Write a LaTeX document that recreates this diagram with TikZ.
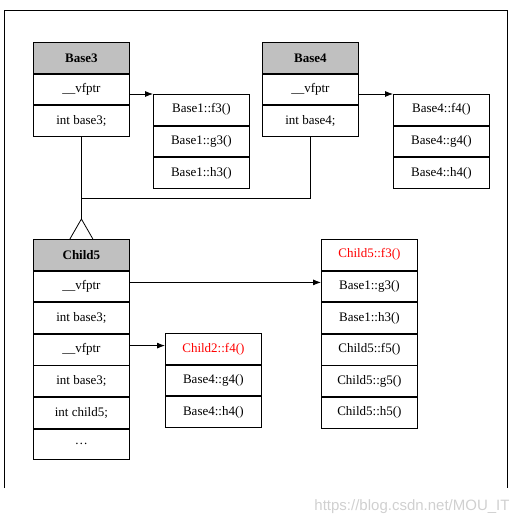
\documentclass[tikz,border=0pt]{standalone}
\usepackage{fontspec}
\setmainfont{Liberation Serif}
\newfontfamily\urlfont{Liberation Sans}
\usetikzlibrary{arrows.meta,positioning}
\definecolor{headgray}{HTML}{C0C0C0}
\definecolor{overcolor}{HTML}{FF0000}
\definecolor{markgray}{HTML}{D0D0D0}

\begin{document}
\begin{tikzpicture}[
  x=1pt,y=-1pt,
  cell/.style={rectangle,draw,line width=0.8pt,minimum width=96pt,minimum height=30.8pt,inner sep=0pt,font=\fontsize{13}{15}\selectfont},
  head/.style={cell,fill=headgray,font=\fontsize{13}{15}\selectfont\bfseries},
  over/.style={cell,text=overcolor},
  arr/.style={-{Latex[length=8pt,width=6pt]},line width=0.8pt},
  link/.style={line width=0.8pt}
]
\useasboundingbox (0,0) rectangle (529,525);
\draw[link] (4,488) -- (4,10) -- (507,10) -- (507,488);

% Base3 and its table
\node[head,anchor=north west] (b3head) at (33,42) {Base3};
\node[cell,below=0pt of b3head] (b3vf) {\_\_vfptr};
\node[cell,below=0pt of b3vf] (b3int) {int base3;};
\node[cell,anchor=north west] (t3a) at (153,94) {Base1::f3()};
\node[cell,below=0pt of t3a] (t3b) {Base1::g3()};
\node[cell,below=0pt of t3b] (t3c) {Base1::h3()};

% Base4 and its table
\node[head,anchor=north west] (b4head) at (262,42) {Base4};
\node[cell,below=0pt of b4head] (b4vf) {\_\_vfptr};
\node[cell,below=0pt of b4vf] (b4int) {int base4;};
\node[cell,anchor=north west] (t4a) at (393,94) {Base4::f4()};
\node[cell,below=0pt of t4a] (t4b) {Base4::g4()};
\node[cell,below=0pt of t4b] (t4c) {Base4::h4()};

% Child5
\node[head,anchor=north west] (c5head) at (33,239) {Child5};
\node[cell,below=0pt of c5head] (c5vf1) {\_\_vfptr};
\node[cell,below=0pt of c5vf1] (c5b3) {int base3;};
\node[cell,below=0pt of c5b3] (c5vf2) {\_\_vfptr};
\node[cell,below=0pt of c5vf2] (c5b4) {int base3;};
\node[cell,below=0pt of c5b4] (c5own) {int child5;};
\node[cell,below=0pt of c5own] (c5dots) {\dots};

\node[over,anchor=north west] (t5a) at (321,239) {Child5::f3()};
\node[cell,below=0pt of t5a] (t5b) {Base1::g3()};
\node[cell,below=0pt of t5b] (t5c) {Base1::h3()};
\node[cell,below=0pt of t5c] (t5d) {Child5::f5()};
\node[cell,below=0pt of t5d] (t5e) {Child5::g5()};
\node[cell,below=0pt of t5e] (t5f) {Child5::h5()};

\node[over,anchor=north west] (t2a) at (165,333) {Child2::f4()};
\node[cell,below=0pt of t2a] (t2b) {Base4::g4()};
\node[cell,below=0pt of t2b] (t2c) {Base4::h4()};

% pointers
\draw[arr] (b3vf.east |- t3a.north west) -- (t3a.north west);
\draw[arr] (b4vf.east |- t4a.north west) -- (t4a.north west);
\draw[arr] ([yshift=4pt]c5vf1.east) -- ([yshift=4pt]c5vf1.east -| t5a.west);
\draw[arr] ([yshift=4pt]c5vf2.east) -- ([yshift=4pt]c5vf2.east -| t2a.west);

% inheritance
\coordinate (join) at (81,198);
\coordinate[above=20pt of c5head.north] (tip);
\draw[link] (b3int.south) -- (tip);
\draw[link] (join) -| (b4int.south);
\draw[link] ([xshift=-11.5pt]c5head.north) -- (tip) -- ([xshift=11.5pt]c5head.north);

\node[font=\urlfont\fontsize{15}{17}\selectfont,text=markgray] (mark) at (412,507) {https://blog.csdn.net/MOU\_IT};
\end{tikzpicture}
\end{document}
